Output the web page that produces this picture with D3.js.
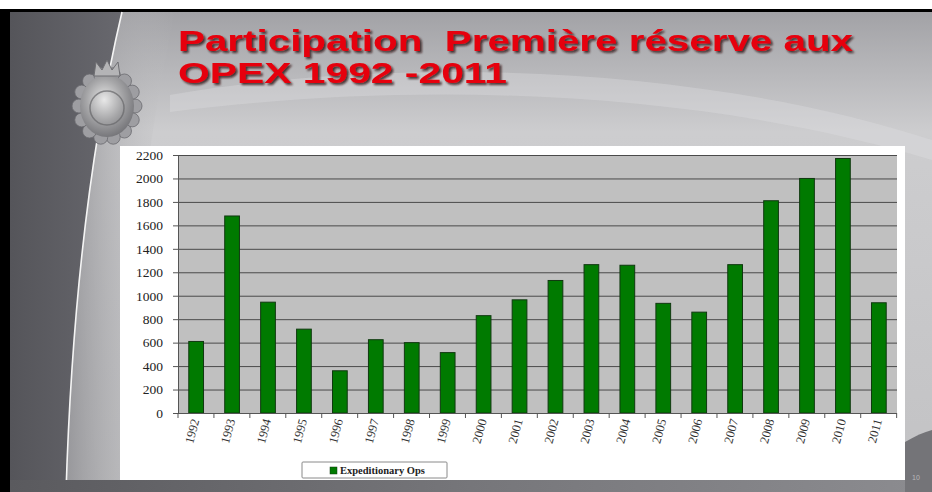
<!DOCTYPE html>
<html>
<head>
<meta charset="utf-8">
<script src="https://cdn.jsdelivr.net/npm/d3@7"></script>
<style>
  body { margin: 0; background: #fff; }
  svg { display: block; }
</style>
</head>
<body>
<div id="chart"></div>
<script>
// data
var years = ["1992","1993","1994","1995","1996","1997","1998","1999","2000","2001",
             "2002","2003","2004","2005","2006","2007","2008","2009","2010","2011"];
var expeditionaryOps = [610, 1680, 945, 715, 360, 625, 600, 515, 830, 965,
                        1130, 1265, 1260, 935, 860, 1265, 1810, 2000, 2170, 940];
var yTicks = [0, 200, 400, 600, 800, 1000, 1200, 1400, 1600, 1800, 2000, 2200];
var titleLines = ["Participation  Première réserve aux", "OPEX 1992 -2011"];
var seriesName = "Expeditionary Ops";

var W = 932, H = 492;
var svg = d3.select("#chart").append("svg").attr("width", W).attr("height", H);
var defs = svg.append("defs");

// ---- slide background ----
var bg = defs.append("linearGradient").attr("id", "bg").attr("x1", 0).attr("y1", 0).attr("x2", 0).attr("y2", 1);
bg.append("stop").attr("offset", "0%").attr("stop-color", "#a2a2a6");
bg.append("stop").attr("offset", "25%").attr("stop-color", "#cdcdcf");
bg.append("stop").attr("offset", "100%").attr("stop-color", "#c2c2c4");

var side = defs.append("linearGradient").attr("id", "side").attr("x1", 0).attr("y1", 0).attr("x2", 1).attr("y2", 0);
side.append("stop").attr("offset", "0%").attr("stop-color", "#55555a");
side.append("stop").attr("offset", "100%").attr("stop-color", "#68686e");

var sheen = defs.append("linearGradient").attr("id", "sheen").attr("x1", 0).attr("y1", 0).attr("x2", 1).attr("y2", 0);
sheen.append("stop").attr("offset", "0%").attr("stop-color", "#8c8c90");
sheen.append("stop").attr("offset", "100%").attr("stop-color", "#c4c4c6").attr("stop-opacity", 0);

var bottomG = defs.append("linearGradient").attr("id", "bottomG").attr("x1", 0).attr("y1", 0).attr("x2", 1).attr("y2", 0);
bottomG.append("stop").attr("offset", "0%").attr("stop-color", "#5a5a5e");
bottomG.append("stop").attr("offset", "50%").attr("stop-color", "#76767a");
bottomG.append("stop").attr("offset", "100%").attr("stop-color", "#8c8c90");

var badge = defs.append("radialGradient").attr("id", "badge").attr("cx", "45%").attr("cy", "40%").attr("r", "60%");
badge.append("stop").attr("offset", "0%").attr("stop-color", "#e8e8e8");
badge.append("stop").attr("offset", "55%").attr("stop-color", "#a6a6a8");
badge.append("stop").attr("offset", "100%").attr("stop-color", "#77777b");

var shadow = defs.append("filter").attr("id", "shadow").attr("x", "-5%").attr("y", "-20%").attr("width", "110%").attr("height", "150%");
shadow.append("feDropShadow").attr("dx", 2).attr("dy", 2).attr("stdDeviation", 0.8)
  .attr("flood-color", "#2a0808").attr("flood-opacity", 0.8);

svg.append("rect").attr("x", 0).attr("y", 0).attr("width", W).attr("height", H).attr("fill", "#fff");
svg.append("rect").attr("x", 0).attr("y", 9).attr("width", W).attr("height", H - 9).attr("fill", "#000");
svg.append("rect").attr("x", 10).attr("y", 12).attr("width", W - 10).attr("height", H - 12).attr("fill", "url(#bg)");

// faint light swoosh at the top
svg.append("path")
  .attr("d", "M170,95 C400,55 700,65 932,140 L932,160 C700,90 420,80 170,112 Z")
  .attr("fill", "#e0e0e2").attr("opacity", 0.35);

// dark left panel + shaded band up to the arc
svg.append("path")
  .attr("d", "M10,12 L122,12 C92,140 72,300 66,492 L10,492 Z")
  .attr("fill", "url(#side)");
svg.append("path")
  .attr("d", "M122,12 L175,12 C145,150 128,300 124,492 L66,492 C72,300 92,140 122,12 Z")
  .attr("fill", "url(#sheen)").attr("opacity", 0.8);
svg.append("path")
  .attr("d", "M122,12 C92,140 72,300 66,492")
  .attr("fill", "none").attr("stroke", "#f4f4f4").attr("stroke-width", 1.6);

// bottom dark strip and right corner swoosh
svg.append("rect").attr("x", 10).attr("y", 480).attr("width", W - 10).attr("height", 12).attr("fill", "url(#bottomG)");
svg.append("path")
  .attr("d", "M905,442 C915,436 924,432 932,430 L932,492 L905,492 Z")
  .attr("fill", "#747478");

// badge (simplified emblem)
var logo = svg.append("g").attr("transform", "translate(107,102)");
var leaves = d3.range(14).map(function(i) { return i * 2 * Math.PI / 14; });
logo.selectAll("circle.leaf").data(leaves).join("circle").attr("class", "leaf")
  .attr("cx", function(a) { return 28 * Math.cos(a); })
  .attr("cy", function(a) { return 32 * Math.sin(a) + 4; })
  .attr("r", 7).attr("fill", "#9e9ea2").attr("stroke", "#6a6a6e").attr("stroke-width", 0.8);
logo.append("ellipse").attr("cy", 4).attr("rx", 27).attr("ry", 31).attr("fill", "url(#badge)");
logo.append("circle").attr("cy", 6).attr("r", 17).attr("fill", "none").attr("stroke", "#66666a").attr("stroke-width", 1.5).attr("opacity", 0.7);
logo.append("path").attr("d", "M-13,-26 L-11,-40 L-5,-32 L0,-42 L5,-32 L11,-40 L13,-26 Z")
  .attr("fill", "#b4b4b6").attr("stroke", "#6e6e72").attr("stroke-width", 1);

// ---- title ----
var title = svg.append("g").attr("font-family", "'Liberation Sans', Arial, sans-serif")
  .attr("font-weight", "bold").attr("font-size", 29).attr("fill", "#e6000a")
  .attr("filter", "url(#shadow)");
title.append("text").attr("x", 178).attr("y", 51).attr("textLength", 675)
  .attr("xml:space", "preserve").style("white-space", "pre")
  .attr("lengthAdjust", "spacingAndGlyphs").text(titleLines[0]);
title.append("text").attr("x", 178).attr("y", 83).attr("textLength", 329)
  .attr("lengthAdjust", "spacingAndGlyphs").text(titleLines[1]);

// ---- chart ----
svg.append("rect").attr("x", 120).attr("y", 146).attr("width", 785).attr("height", 334).attr("fill", "#fff");

var plot = { left: 178, top: 155, right: 897, bottom: 413 };

var x = d3.scaleBand().domain(years)
  .range([plot.left, plot.right]).paddingInner(0.59).paddingOuter(0.3);
var y = d3.scaleLinear().domain([0, 2200]).range([plot.bottom, plot.top]);

svg.append("rect").attr("x", plot.left).attr("y", plot.top)
  .attr("width", plot.right - plot.left).attr("height", plot.bottom - plot.top)
  .attr("fill", "#c0c0c0");

// gridlines
svg.append("g").selectAll("line").data(yTicks.slice(1)).join("line")
  .attr("x1", plot.left).attr("x2", plot.right)
  .attr("y1", function(d) { return y(d) + 0.5; }).attr("y2", function(d) { return y(d) + 0.5; })
  .attr("stroke", "#4a4a4a").attr("stroke-width", 1);

// bars
svg.append("g").selectAll("rect").data(expeditionaryOps).join("rect")
  .attr("x", function(d, i) { return x(years[i]); })
  .attr("y", function(d) { return y(d); })
  .attr("width", x.bandwidth())
  .attr("height", function(d) { return plot.bottom - y(d); })
  .attr("fill", "#007a00").attr("stroke", "#103810").attr("stroke-width", 1);

// y axis
var yAxis = d3.axisLeft(y).tickValues(yTicks).tickSize(5).tickPadding(10).tickFormat(d3.format("d"));
var gy = svg.append("g").attr("transform", "translate(" + plot.left + ",0)").call(yAxis);
gy.select(".domain").attr("stroke", "#555");
gy.selectAll(".tick line").attr("stroke", "#555");
gy.selectAll("text").attr("font-family", "'Liberation Serif', 'Times New Roman', serif")
  .attr("font-size", 13.5).attr("fill", "#222");

// x axis: ticks sit between categories
var xAxis = d3.axisBottom(x).tickSize(0).tickPadding(0);
var gx = svg.append("g").attr("transform", "translate(0," + plot.bottom + ")").call(xAxis);
gx.select(".domain").attr("stroke", "#555").attr("d", "M" + plot.left + ",0.5H" + plot.right);
gx.selectAll(".tick text")
  .attr("font-family", "'Liberation Serif', 'Times New Roman', serif")
  .attr("font-size", 12.5).attr("fill", "#333")
  .attr("text-anchor", "end")
  .attr("transform", "translate(-1,6) rotate(-75)")
  .attr("dy", "0.35em").attr("y", 0).attr("x", 0);
svg.append("g").selectAll("line").data(years.concat(["end"])).join("line")
  .attr("x1", function(d, i) { return plot.left + i * x.step(); })
  .attr("x2", function(d, i) { return plot.left + i * x.step(); })
  .attr("y1", plot.bottom).attr("y2", plot.bottom + 5)
  .attr("stroke", "#555");

// legend
var legend = svg.append("g").attr("transform", "translate(302,462)");
legend.append("rect").attr("width", 145).attr("height", 16).attr("fill", "#fff")
  .attr("stroke", "#8a8a8a").attr("stroke-width", 1).attr("rx", 1);
legend.append("rect").attr("x", 28).attr("y", 5).attr("width", 7).attr("height", 7)
  .attr("fill", "#007a00").attr("stroke", "#103810").attr("stroke-width", 0.5);
legend.append("text").attr("x", 38).attr("y", 12)
  .attr("font-family", "'Liberation Serif', 'Times New Roman', serif")
  .attr("font-weight", "bold").attr("font-size", 10.5).attr("fill", "#222")
  .text(seriesName);

// slide number
svg.append("text").attr("x", 912).attr("y", 480).attr("font-family", "'Liberation Sans', Arial, sans-serif")
  .attr("font-size", 7).attr("fill", "#b8b8b8").text("10");
</script>
</body>
</html>
